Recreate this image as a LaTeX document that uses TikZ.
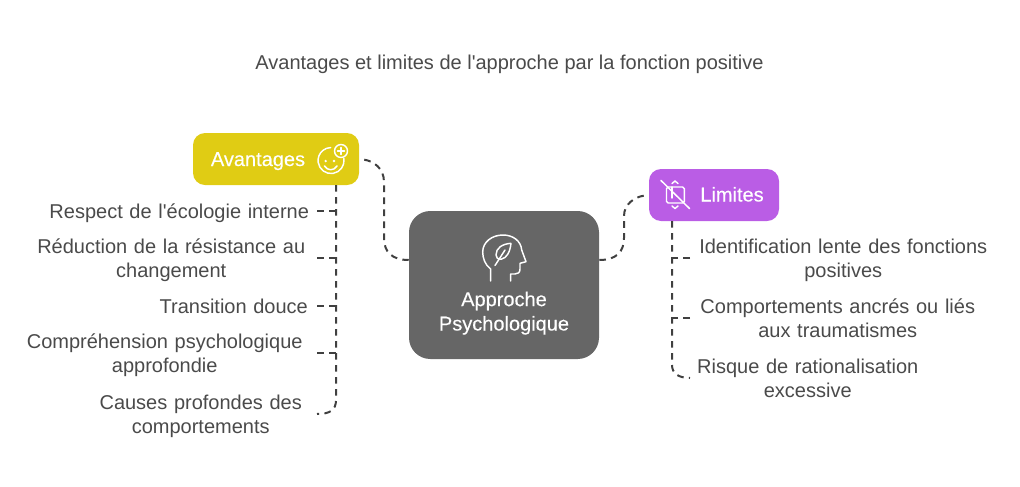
\documentclass[tikz,border=0pt]{standalone}
\usepackage{fontspec}
\setmainfont{Liberation Sans}[Ligatures=TeXOff]
\newfontfamily\headfont{Liberation Sans}[Ligatures=TeXOff,FakeBold=0.25]
\usetikzlibrary{calc}
\definecolor{ink}{HTML}{4A4A4A}
\definecolor{wire}{HTML}{404040}
\definecolor{yel}{HTML}{E0CC14}
\definecolor{vio}{HTML}{BA5DE5}
\definecolor{mid}{HTML}{666666}
\tikzset{
  box/.style={inner sep=0pt,rounded corners=#1},
  head/.style={text=white,inner sep=0pt,font=\headfont\fontsize{15pt}{18.3pt}\selectfont,align=center,text height=11pt,text depth=3.5pt},
  item/.style={text=ink,inner sep=0pt,font=\fontsize{15pt}{18.3pt}\selectfont,align=center,text height=14pt,text depth=3.5pt},
  itemtwo/.style={item,text height=11pt,text depth=18.5pt},
  wirestyle/.style={draw=wire,line width=1.5pt,dash pattern=on 5pt off 4pt},
  icon/.style={draw=white,line width=1.1pt,line cap=round,line join=round},
}
\begin{document}
\begin{tikzpicture}[x=0.75pt,y=-0.75pt]
\useasboundingbox (0,0) rectangle (1020,486);
\node[item,anchor=center] (title) at (509.5,62.5) {Avantages et limites de l'approche par la fonction positive};
% boxes
\node[box=9pt,fill=yel,minimum width=124.5pt,minimum height=39pt] (av) at (276,159) {};
\node[box=9pt,fill=vio,minimum width=97.5pt,minimum height=39pt] (li) at (714,195) {};
\node[box=16pt,fill=mid,minimum width=142.5pt,minimum height=111pt] (ce) at (504,285) {};
\node[head] (avt) at (258,161) {Avantages};
\node[head] (lit) at (732,196.5) {Limites};
\node[head] (cet) at (504,325.5) {Approche\\Psychologique};
% left items
\node[item,anchor=east,text width=206.25pt] (l1) at (317,211) {Respect de l'écologie interne};
\node[itemtwo,anchor=east,text width=218.25pt] (l2) at (317,258) {Réduction de la résistance au\\changement};
\node[item,anchor=east,text width=124.5pt] (l3) at (317,306) {Transition douce};
\node[itemtwo,anchor=east,text width=228pt] (l4) at (317,353) {Compréhension psychologique\\approfondie};
\node[itemtwo,anchor=east,text width=174pt] (l5) at (317,414) {Causes profondes des\\comportements};
% right items
\node[itemtwo,anchor=west,text width=229.5pt] (r1) at (690,258) {Identification lente des fonctions\\positives};
\node[itemtwo,anchor=west,text width=221.25pt] (r2) at (690,318) {Comportements ancrés ou liés\\aux traumatismes};
\node[itemtwo,anchor=west,text width=176.25pt] (r3) at (690,378) {Risque de rationalisation\\excessive};
% main connectors
\draw[wirestyle,shorten <=3.75pt] (av.east) .. controls +(14,2) and (384,168) .. (384,182) -- (384,238) .. controls (384,252) and (392,260) .. ($(ce.west)+(0,-25)$);
\draw[wirestyle,shorten <=3.75pt] (li.west) .. controls +(-14,2) and (624,204) .. (624,216) -- (624,238) .. controls (624,252) and (616,260) .. ($(ce.east)+(0,-25)$);
% trunks
\coordinate (tl) at (336,185);
\coordinate (tr) at (672,221);
\draw[wirestyle] (tl) -- (336,400) .. controls (336,410) and (330,414) .. (l5.east);
\foreach \n in {l1,l2,l3,l4} \draw[wirestyle] (\n.east) -- (\n.east -| tl);
\draw[wirestyle] (tr) -- (672,365) .. controls (672,373) and (678,378) .. (r3.west);
\foreach \n in {r1,r2} \draw[wirestyle] (\n.west) -- (\n.west -| tr);
% smile icon
\draw[icon] (343.9,158.5) -- (343.9,158.5) arc[start angle=-9,end angle=268,radius=13];
\draw[icon] (341,151) circle[radius=6.5];
\draw[icon] (341,147.5) -- (341,154.5) (337.5,151) -- (344.5,151);
\fill[white] (325.7,161) circle[radius=1.3] (334,161) circle[radius=1.3];
\draw[icon] (324.5,166) .. controls (327.5,171) and (334,171) .. (337,166);
% limits icon
\draw[icon] (661,180.5) -- (689.5,208.5);
\draw[icon,rounded corners=1.2pt] (666.5,187) rectangle (684.3,203);
\draw[icon] (672,187) -- (672,198);
\draw[icon] (672,183.5) -- (675,181) -- (678,183.5);
\draw[icon] (672,206) -- (675,208.5) -- (678,206);
% head icon
\draw[icon] (490.7,281) -- (490.7,269) .. controls (485,265) and (482.7,258) .. (482.7,252)
  .. controls (482.7,242) and (492,235) .. (503,235)
  .. controls (513,235) and (521,241) .. (521.7,250)
  -- (526,261.7) -- (520,263.3) -- (520,269) .. controls (520,272.5) and (518,274) .. (515,274) -- (510.7,274) -- (510.7,281);
\draw[icon] (495,265.5) -- (505,250);
\draw[icon] (511,243.3) .. controls (502,244) and (496,248) .. (496,255)
  .. controls (496,258) and (498,259.5) .. (501,259.3)
  .. controls (507,258) and (510,252) .. (511,243.3);
\end{tikzpicture}
\end{document}
